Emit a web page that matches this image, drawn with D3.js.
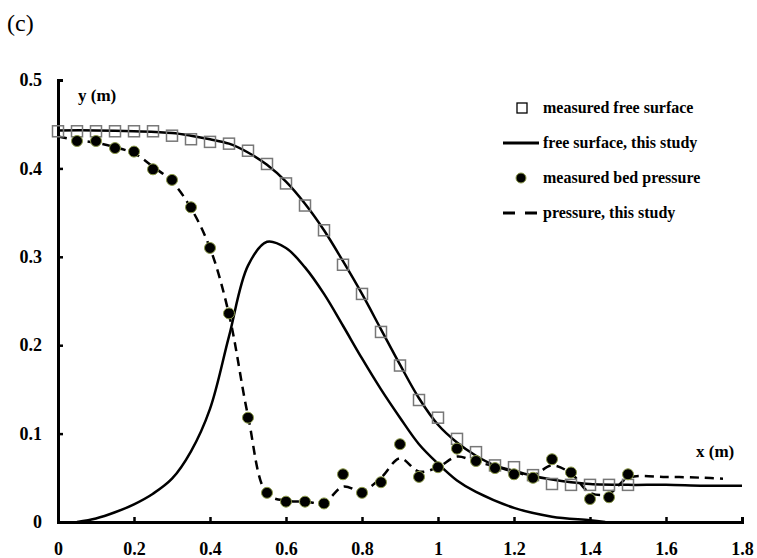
<!DOCTYPE html>
<html>
<head>
  <script src="https://d3js.org/d3.v7.min.js"></script>
  <style>
    body {
  margin: 0;
  background-color: #ffffff;
}

svg, svg g, svg text {
  font-family: 'Liberation Serif', 'Times New Roman', serif;
}

.tick text {
  font-weight: bold;
  font-size: 18px;
}

.legend text {
  font-weight: bold;
  font-size: 16px;
}
  </style>
</head>
<body>

<script>
// Measured free surface (squares).
const surfX = [0, 0.05, 0.1, 0.15, 0.2, 0.25, 0.3, 0.35, 0.4, 0.45, 0.5, 0.55, 0.6, 0.65, 0.7, 0.75,
  0.8, 0.85, 0.9, 0.95, 1.0, 1.05, 1.1, 1.15, 1.2, 1.25, 1.3, 1.35, 1.4, 1.45, 1.5];
const surfY = [0.442, 0.442, 0.442, 0.442, 0.442, 0.442, 0.437, 0.433, 0.430, 0.428, 0.420, 0.405, 0.383,
  0.358, 0.330, 0.291, 0.258, 0.215, 0.177, 0.138, 0.118, 0.094, 0.079, 0.064, 0.062, 0.053, 0.043,
  0.042, 0.042, 0.042, 0.042];

// Free surface, this study (solid line).
const fsX = [0, 0.1, 0.2, 0.3, 0.35, 0.4, 0.45, 0.5, 0.55, 0.6, 0.65, 0.7, 0.75, 0.8, 0.85, 0.9, 0.95,
  1.0, 1.05, 1.1, 1.15, 1.2, 1.25, 1.3, 1.35, 1.4, 1.5, 1.6, 1.7, 1.8];
const fsY = [0.443, 0.443, 0.442, 0.440, 0.437, 0.433, 0.428, 0.418, 0.404, 0.385, 0.360, 0.330, 0.295,
  0.258, 0.218, 0.178, 0.140, 0.110, 0.090, 0.075, 0.064, 0.058, 0.052, 0.048, 0.045, 0.043, 0.042,
  0.042, 0.041, 0.041];

// Second solid curve (bump).
const bumpX = [0.05, 0.1, 0.15, 0.2, 0.25, 0.3, 0.35, 0.4, 0.45, 0.5, 0.55, 0.6, 0.65, 0.7, 0.75, 0.8,
  0.85, 0.9, 0.95, 1.0, 1.05, 1.1, 1.2, 1.3, 1.4, 1.44];
const bumpY = [0, 0.004, 0.011, 0.02, 0.032, 0.049, 0.08, 0.128, 0.21, 0.29, 0.317, 0.31, 0.288, 0.258,
  0.222, 0.185, 0.15, 0.118, 0.088, 0.066, 0.047, 0.034, 0.016, 0.006, 0.002, 0];

// Measured bed pressure (dots).
const presX = [0.05, 0.1, 0.15, 0.2, 0.25, 0.3, 0.35, 0.4, 0.45, 0.5, 0.55, 0.6, 0.65, 0.7, 0.75, 0.8,
  0.85, 0.9, 0.95, 1.0, 1.05, 1.1, 1.15, 1.2, 1.25, 1.3, 1.35, 1.4, 1.45, 1.5];
const presY = [0.431, 0.431, 0.423, 0.419, 0.399, 0.387, 0.356, 0.31, 0.236, 0.118, 0.033, 0.023, 0.023,
  0.021, 0.054, 0.033, 0.045, 0.088, 0.051, 0.062, 0.083, 0.069, 0.061, 0.054, 0.05, 0.071, 0.056,
  0.026, 0.028, 0.054];

// Pressure, this study (dashed line).
const pcX = [0, 0.05, 0.1, 0.15, 0.2, 0.25, 0.3, 0.35, 0.4, 0.45, 0.5, 0.55, 0.6, 0.65, 0.7, 0.75, 0.8,
  0.85, 0.9, 0.95, 1.0, 1.05, 1.1, 1.15, 1.2, 1.25, 1.3, 1.35, 1.4, 1.45, 1.5, 1.6, 1.7, 1.75];
const pcY = [0.436, 0.432, 0.429, 0.424, 0.417, 0.402, 0.385, 0.355, 0.31, 0.235, 0.12, 0.032, 0.024,
  0.023, 0.022, 0.04, 0.035, 0.05, 0.072, 0.057, 0.062, 0.074, 0.068, 0.063, 0.057, 0.053, 0.064,
  0.055, 0.033, 0.032, 0.05, 0.051, 0.05, 0.049];

const xTicks = [0, 0.2, 0.4, 0.6, 0.8, 1, 1.2, 1.4, 1.6, 1.8];
const yTicks = [0, 0.1, 0.2, 0.3, 0.4, 0.5];

const legendLabels = ["measured free surface", "free surface, this study",
  "measured bed pressure", "pressure, this study"];

const width = 757;
const height = 558;
const margin = { left: 58, right: 15, top: 80, bottom: 36 };

const svg = d3.select("body")
  .append("svg")
  .attr("width", width)
  .attr("height", height);

const x = d3.scaleLinear().domain([0, 1.8]).range([margin.left, width - margin.right]);
const y = d3.scaleLinear().domain([0, 0.5]).range([height - margin.bottom, margin.top]);

const zip = (xs, ys) => xs.map((v, i) => [v, ys[i]]);

// Axes.
const fmt = d => String(d);

const xAxis = svg.append("g")
  .attr("transform", `translate(0,${y(0)})`)
  .call(d3.axisTop(x).tickValues(xTicks).tickSize(5).tickFormat(fmt));
xAxis.selectAll(".tick text").attr("y", 27).attr("dy", "0.32em");

const yAxis = svg.append("g")
  .attr("transform", `translate(${x(0)},0)`)
  .call(d3.axisRight(y).tickValues(yTicks).tickSize(5).tickFormat(fmt));
yAxis.selectAll(".tick text").attr("x", -16).attr("text-anchor", "end");

svg.selectAll("g").attr("font-family", "'Liberation Serif', 'Times New Roman', serif");
svg.selectAll(".domain").attr("stroke", "#000").attr("stroke-width", 3);
svg.selectAll(".tick line").attr("stroke", "#000").attr("stroke-width", 2.5);
svg.selectAll(".tick text").attr("fill", "#000");

const line = d3.line().x(d => x(d[0])).y(d => y(d[1])).curve(d3.curveCatmullRom);

svg.append("path")
  .datum(zip(fsX, fsY))
  .attr("d", line)
  .attr("fill", "none")
  .attr("stroke", "#000")
  .attr("stroke-width", 2.5);

svg.append("path")
  .datum(zip(bumpX, bumpY))
  .attr("d", line)
  .attr("fill", "none")
  .attr("stroke", "#000")
  .attr("stroke-width", 2.5);

svg.append("path")
  .datum(zip(pcX, pcY))
  .attr("d", line)
  .attr("fill", "none")
  .attr("stroke", "#000")
  .attr("stroke-width", 2.5)
  .attr("stroke-dasharray", "9,6");

// Squares.
svg.selectAll(".sq")
  .data(zip(surfX, surfY))
  .enter()
  .append("rect")
  .attr("x", d => x(d[0]) - 5.5)
  .attr("y", d => y(d[1]) - 5.5)
  .attr("width", 11)
  .attr("height", 11)
  .attr("fill", "none")
  .attr("stroke", "#777")
  .attr("stroke-width", 1.5);

// Dots.
svg.selectAll(".dot")
  .data(zip(presX, presY))
  .enter()
  .append("circle")
  .attr("cx", d => x(d[0]))
  .attr("cy", d => y(d[1]))
  .attr("r", 5.5)
  .attr("fill", "#000")
  .attr("stroke", "#8c9a4a")
  .attr("stroke-width", 1);

// Axis titles and panel label.
svg.append("text").attr("x", 78).attr("y", 101)
  .attr("font-weight", "bold").attr("font-size", "17px").text("y (m)");
svg.append("text").attr("x", 696).attr("y", 457)
  .attr("font-weight", "bold").attr("font-size", "17px").text("x (m)");
svg.append("text").attr("x", 7).attr("y", 31)
  .attr("font-size", "24px").text("(c)");

// Legend.
const legend = svg.append("g").attr("class", "legend");
const rowY = [108, 143, 178, 213];
legendLabels.forEach((t, i) => {
  legend.append("text").attr("x", 543).attr("y", rowY[i]).attr("dy", "0.32em").text(t);
});
legend.append("rect").attr("x", 517).attr("y", rowY[0] - 5).attr("width", 10).attr("height", 10)
  .attr("fill", "none").attr("stroke", "#000").attr("stroke-width", 1.3);
legend.append("line").attr("x1", 503).attr("x2", 539).attr("y1", rowY[1]).attr("y2", rowY[1])
  .attr("stroke", "#000").attr("stroke-width", 3);
legend.append("circle").attr("cx", 521).attr("cy", rowY[2]).attr("r", 5)
  .attr("fill", "#000").attr("stroke", "#8c9a4a").attr("stroke-width", 1);
legend.append("line").attr("x1", 503).attr("x2", 539).attr("y1", rowY[3]).attr("y2", rowY[3])
  .attr("stroke", "#000").attr("stroke-width", 3).attr("stroke-dasharray", "12,10");
</script>
</body>
</html>
